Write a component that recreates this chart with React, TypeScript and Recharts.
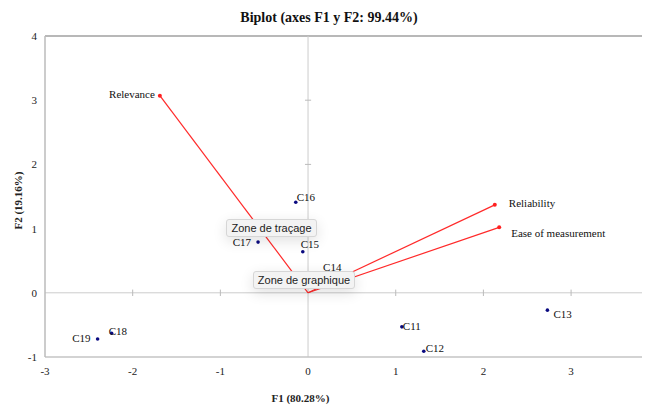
import React from 'react';
import { ScatterChart, Scatter, XAxis, YAxis, ReferenceLine } from 'recharts';

const obsNames = ['C11', 'C12', 'C13', 'C14', 'C15', 'C16', 'C17', 'C18', 'C19'];
const obsF1 = [1.07, 1.32, 2.73, 0.16, -0.06, -0.14, -0.57, -2.24, -2.4];
const obsF2 = [-0.53, -0.91, -0.27, 0.25, 0.64, 1.41, 0.79, -0.63, -0.72];

const varNames = ['Relevance', 'Reliability', 'Ease of measurement'];
const varF1 = [-1.69, 2.13, 2.18];
const varF2 = [3.07, 1.37, 1.02];

const xTicks = [-3, -2, -1, 0, 1, 2, 3];
const yTicks = [-1, 0, 1, 2, 3, 4];

const title = 'Biplot (axes F1 y F2: 99.44%)';
const xTitle = 'F1 (80.28%)';
const yTitle = 'F2 (19.16%)';

const obsData = obsNames.map((name, i) => ({ name, x: obsF1[i], y: obsF2[i] }));
const varData = varNames.map((name, i) => ({ name, x: varF1[i], y: varF2[i] }));

// label placement styles: [dx, dy, anchor]
const labelStyle: Record<string, [number, number, string]> = {
  C11: [1, 3, 'start'],
  C12: [2, 1, 'start'],
  C13: [6, 8, 'start'],
  C14: [1, -6, 'start'],
  C15: [-2, -4, 'start'],
  C16: [1, -1, 'start'],
  C17: [-7, 4, 'end'],
  C18: [-3, 2, 'start'],
  C19: [-7, 3, 'end'],
  Relevance: [-5, 2, 'end'],
  Reliability: [14, 2.5, 'start'],
  'Ease of measurement': [12, 9.5, 'start'],
};

const FONT = '"Liberation Serif", "Times New Roman", serif';

const makeShape = (color: string, r: number) => (props: any) => {
  const { cx, cy, payload } = props;
  const st = labelStyle[payload.name] || [4, 4, 'start'];
  return (
    <g>
      <circle cx={cx} cy={cy} r={r} fill={color} />
      <text
        x={cx + st[0]}
        y={cy + st[1]}
        textAnchor={st[2] as any}
        fontFamily={FONT}
        fontSize={11}
        fill="#111"
      >
        {payload.name}
      </text>
    </g>
  );
};

const xTickMarks = [-2, -1, 1, 2, 3];
const yTickMarks = [1, 2, 3];

const tipStyle: React.CSSProperties = {
  position: 'absolute',
  fontFamily: '"Liberation Sans", Arial, sans-serif',
  fontSize: 11,
  color: '#222',
  background: '#f3f3f3',
  border: '1px solid #d6d6d6',
  borderRadius: 3,
  boxShadow: '0 4px 14px rgba(0,0,0,0.12)',
  boxSizing: 'border-box',
  display: 'flex',
  alignItems: 'center',
  justifyContent: 'center',
  whiteSpace: 'nowrap',
};

export default function App() {
  return (
    <div style={{ position: 'relative', width: 642, height: 398 }}>
      <ScatterChart
        width={642}
        height={398}
        margin={{ top: 28, right: 0, bottom: 0, left: 0 }}
      >
        <XAxis
          type="number"
          dataKey="x"
          domain={[-3, 3.9]}
          ticks={xTicks}
          allowDataOverflow
          axisLine={{ stroke: '#c4c4c4', strokeWidth: 1.5 }}
          tickLine={false}
          tickMargin={4}
          tick={{ fontFamily: FONT, fontSize: 11, fill: '#222' }}
          height={49}
          label={(p: any) => {
            const vb = p.viewBox;
            return (
              <text
                x={vb.x + vb.width / 2 - 47}
                y={vb.y + vb.height - 4}
                textAnchor="middle"
                fontFamily={FONT}
                fontSize={11}
                fontWeight="bold"
                fill="#222"
              >
                {xTitle}
              </text>
            );
          }}
        />
        <YAxis
          type="number"
          dataKey="y"
          domain={[-1, 4]}
          ticks={yTicks}
          allowDataOverflow
          axisLine={{ stroke: '#bbbbbb', strokeWidth: 1.5 }}
          tickLine={false}
          tick={{ fontFamily: FONT, fontSize: 11, fill: '#222' }}
          width={37}
          label={(p: any) => {
            const vb = p.viewBox;
            const cx = vb.x + 10;
            const cy = vb.y + vb.height / 2 + 4;
            return (
              <text
                x={cx}
                y={cy}
                transform={`rotate(-90 ${cx} ${cy})`}
                textAnchor="middle"
                dominantBaseline="central"
                fontFamily={FONT}
                fontSize={11}
                fontWeight="bold"
                fill="#222"
              >
                {yTitle}
              </text>
            );
          }}
        />
        <ReferenceLine y={4} stroke="#a0a0a0" strokeWidth={1.5} />
        <ReferenceLine x={0} stroke="#cccccc" />
        <ReferenceLine y={0} stroke="#cccccc" />
        {xTickMarks.map((t) => (
          <ReferenceLine
            key={'xt' + t}
            segment={[
              { x: t, y: 0.05 },
              { x: t, y: -0.05 },
            ]}
            stroke="#bbbbbb"
          />
        ))}
        {yTickMarks.map((t) => (
          <ReferenceLine
            key={'yt' + t}
            segment={[
              { x: -0.035, y: t },
              { x: 0.035, y: t },
            ]}
            stroke="#bbbbbb"
          />
        ))}
        {varData.map((d) => (
          <ReferenceLine
            key={'v' + d.name}
            segment={[
              { x: 0, y: 0 },
              { x: d.x, y: d.y },
            ]}
            stroke="#ff2a2a"
            strokeWidth={1.2}
          />
        ))}
        <Scatter
          data={obsData}
          fill="#0a0a80"
          shape={makeShape('#0a0a80', 1.8)}
          isAnimationActive={false}
        />
        <Scatter
          data={varData}
          fill="#ff2020"
          shape={makeShape('#ff2020', 2)}
          isAnimationActive={false}
        />
      </ScatterChart>
      <div
        style={{
          position: 'absolute',
          left: 0,
          top: 2,
          width: 642,
          textAlign: 'center',
          fontFamily: FONT,
          fontSize: 14,
          fontWeight: 'bold',
          lineHeight: '15px',
          color: '#111',
        }}
      >
        {title}
      </div>
      <div style={{ ...tipStyle, left: 218, top: 211, width: 91, height: 18 }}>
        Zone de traçage
      </div>
      <div style={{ ...tipStyle, left: 245, top: 263, width: 102, height: 18 }}>
        Zone de graphique
      </div>
    </div>
  );
}
